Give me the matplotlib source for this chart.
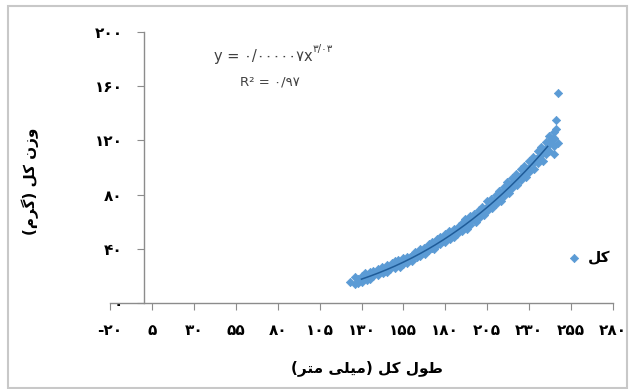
import numpy as np
import matplotlib
matplotlib.use('Agg')
import matplotlib.pyplot as plt
from matplotlib.patches import Rectangle

# total length (mm) and total weight (g)
length_mm = [
    123, 126, 126, 128, 128, 130, 130, 132, 132, 133, 135, 135, 135, 137, 137, 138,
    140, 140, 140, 142, 142, 143, 145, 145, 145, 147, 147, 148, 150, 150, 150, 152,
    152, 153, 155, 155, 155, 157, 157, 158, 160, 160, 160, 162, 162, 163, 165, 165,
    165, 167, 167, 168, 170, 170, 170, 172, 172, 173, 175, 175, 175, 177, 177, 178,
    180, 180, 180, 182, 182, 183, 185, 185, 185, 187, 187, 188, 190, 190, 190, 192,
    192, 193, 195, 195, 195, 197, 197, 198, 200, 200, 200, 202, 202, 203, 205, 205,
    205, 207, 207, 208, 210, 210, 210, 212, 212, 213, 215, 215, 215, 217, 217, 218,
    220, 220, 220, 222, 222, 223, 225, 225, 225, 227, 227, 228, 230, 230, 230, 232,
    232, 233, 235, 235, 235, 237, 237, 238, 240, 240, 240, 242, 242, 242, 243, 245,
    245, 245, 245, 246, 246, 247, 247,
    134, 144, 149, 154, 159, 164, 169, 174, 179, 184, 189, 194, 199, 204, 209, 214,
    219, 224, 229, 234, 239, 244,
]
weight_g = [
    16, 14, 19, 18, 15, 20, 16, 19, 22, 17, 21, 23, 18, 20, 24, 22,
    25, 21, 23, 24, 27, 22, 26, 28, 23, 27, 25, 30, 28, 26, 31, 29,
    32, 27, 31, 33, 29, 34, 30, 32, 35, 33, 31, 36, 38, 34, 37, 40,
    35, 38, 41, 36, 42, 39, 44, 41, 45, 40, 45, 43, 47, 44, 49, 46,
    48, 51, 45, 50, 53, 47, 52, 55, 49, 54, 51, 57, 56, 59, 53, 58,
    62, 55, 61, 64, 58, 62, 66, 60, 66, 69, 63, 67, 71, 65, 71, 75,
    68, 72, 77, 70, 76, 80, 73, 78, 83, 75, 82, 86, 79, 84, 89, 81,
    88, 92, 85, 90, 95, 87, 94, 99, 91, 96, 101, 93, 100, 105, 97, 103,
    108, 99, 107, 112, 103, 109, 115, 105, 114, 119, 110, 117, 123, 112, 120, 122,
    126, 116, 110, 135, 128, 155, 118,
    20, 24, 28, 29, 34, 37, 41, 45, 48, 51, 56, 60, 65, 70, 75, 81,
    87, 93, 99, 106, 112, 121,
]

# power trendline shown on the chart: y = a * x^b
fit_a = 0.000007
fit_b = 3.03
fit_range = (130, 241)

x_ticks = [-20, 5, 30, 55, 80, 105, 130, 155, 180, 205, 230, 255, 280]
y_ticks = [0, 40, 80, 120, 160, 200]

x_title = 'طول کل (میلی متر)'
y_title = 'وزن کل (گرم)'
series_name = 'کل'
eq_text = 'y = ۰/۰۰۰۰۰۷x'
eq_power = '۳/۰۳'
r2_text = 'R² = ۰/۹۷'

FA_DIGITS = str.maketrans('0123456789', '۰۱۲۳۴۵۶۷۸۹')

# isolated, final, initial, medial (None = does not join to the next letter)
FORMS = {
    'و': ('\uFEED', '\uFEEE', None, None),
    'ز': ('\uFEAF', '\uFEB0', None, None),
    'ر': ('\uFEAD', '\uFEAE', None, None),
    'ن': ('\uFEE5', '\uFEE6', '\uFEE7', '\uFEE8'),
    'ک': ('\uFB8E', '\uFB8F', '\uFB90', '\uFB91'),
    'گ': ('\uFB92', '\uFB93', '\uFB94', '\uFB95'),
    'ل': ('\uFEDD', '\uFEDE', '\uFEDF', '\uFEE0'),
    'م': ('\uFEE1', '\uFEE2', '\uFEE3', '\uFEE4'),
    'ط': ('\uFEC1', '\uFEC2', '\uFEC3', '\uFEC4'),
    'ی': ('\uFBFC', '\uFBFD', '\uFBFE', '\uFBFF'),
    'ت': ('\uFE95', '\uFE96', '\uFE97', '\uFE98'),
}


def shape(text):
    # matplotlib has no arabic shaping, so join letters and reverse by hand
    out = []
    for i, ch in enumerate(text):
        if ch not in FORMS:
            out.append(ch)
            continue
        prev = text[i - 1] if i > 0 else ''
        nxt = text[i + 1] if i + 1 < len(text) else ''
        iso, fin, ini, med = FORMS[ch]
        jp = prev in FORMS and FORMS[prev][2] is not None
        jn = nxt in FORMS and ini is not None
        if jp and jn:
            out.append(med)
        elif jp:
            out.append(fin)
        elif jn:
            out.append(ini)
        else:
            out.append(iso)
    mirror = {'(': ')', ')': '('}
    return ''.join(mirror.get(c, c) for c in reversed(out))


def fa(v):
    return str(v).translate(FA_DIGITS)


plt.rcParams['font.family'] = ['DejaVu Sans']

W, H = 630, 389
fig = plt.figure(figsize=(W / 100, H / 100), dpi=100)
ax = fig.add_axes([110 / W, 1 - 303.3 / H, 503 / W, 271.6 / H])

ax.scatter(length_mm, weight_g, marker='D', s=18, color='#5B9BD5',
           edgecolors='#5B9BD5', linewidths=0.5, zorder=3, label=shape(series_name))
xs = np.linspace(fit_range[0], fit_range[1], 200)
ax.plot(xs, fit_a * xs ** fit_b, color='#1F5C99', lw=1.1, zorder=4)

ax.set_xlim(-20, 280)
ax.set_ylim(0, 200)
ax.set_xticks(x_ticks)
ax.set_xticklabels([fa(t) for t in x_ticks])
ax.set_yticks(y_ticks)
ax.set_yticklabels([fa(t) for t in y_ticks])

for side in ['top', 'right']:
    ax.spines[side].set_visible(False)
ax.spines['left'].set_position(('data', 0))
for side in ['left', 'bottom']:
    ax.spines[side].set_color('#8c8c8c')
    ax.spines[side].set_linewidth(1.0)
ax.tick_params(axis='both', colors='#8c8c8c', length=5, width=0.8, labelcolor='black')
ax.tick_params(axis='x', pad=9)
ax.tick_params(axis='y', pad=10)
for lab in ax.get_xticklabels() + ax.get_yticklabels():
    lab.set_fontsize(11)
    lab.set_fontweight('bold')

leg = ax.legend(loc='center left', bbox_to_anchor=(0.911, 0.167), frameon=False,
                borderpad=0, borderaxespad=0, handlelength=0.8, handletextpad=0.5,
                prop={'size': 11, 'weight': 'bold'})

fig.text(30 / W, 1 - 181 / H, shape(y_title), rotation=90, ha='center', va='center',
         fontsize=11, fontweight='bold')
fig.text(367 / W, 1 - 368 / H, shape(x_title), ha='center', va='center',
         fontsize=11, fontweight='bold')

fig.text(313 / W, 1 - 57 / H, eq_text, ha='right', va='center', fontsize=10.5, color='#404040')
fig.text(313 / W, 1 - 49 / H, eq_power, ha='left', va='center', fontsize=7.5, color='#404040')
fig.text(270 / W, 1 - 82 / H, r2_text, ha='center', va='center', fontsize=9.5, color='#404040')

fig.patches.append(Rectangle((8 / W, 1 / H), 619 / W, 382 / H, transform=fig.transFigure,
                             fill=False, edgecolor='#c8c8c8', lw=1.5))

fig.savefig('out.png', dpi=100)
